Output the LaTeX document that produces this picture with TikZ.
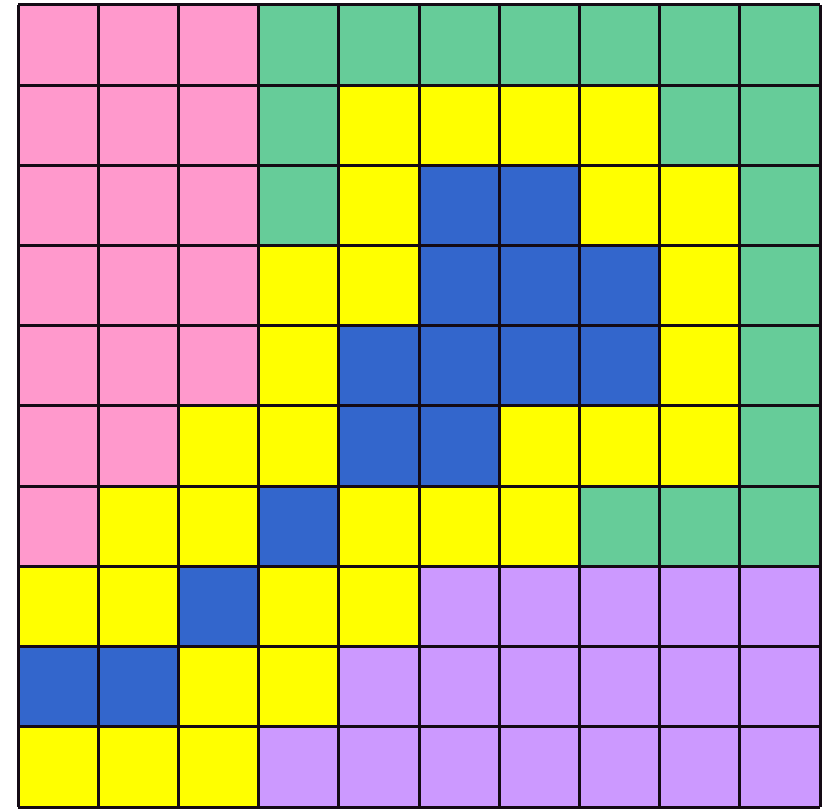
\documentclass[tikz,border=0pt]{standalone}
\definecolor{P}{RGB}{255,153,204}
\definecolor{G}{RGB}{102,204,153}
\definecolor{Y}{RGB}{255,255,0}
\definecolor{B}{RGB}{51,102,204}
\definecolor{V}{RGB}{204,153,255}
\definecolor{gridline}{RGB}{20,10,20}
\begin{document}
\begin{tikzpicture}[x=1pt,y=-1pt,cellbox/.style={draw=gridline,line width=3pt}]
\useasboundingbox (0,0) rectangle (823,810);
\fill[white] (0,0) rectangle (823,810);
\foreach \row [count=\r from 0] in {
 {P,P,P,G,G,G,G,G,G,G},
 {P,P,P,G,Y,Y,Y,Y,G,G},
 {P,P,P,G,Y,B,B,Y,Y,G},
 {P,P,P,Y,Y,B,B,B,Y,G},
 {P,P,P,Y,B,B,B,B,Y,G},
 {P,P,Y,Y,B,B,Y,Y,Y,G},
 {P,Y,Y,B,Y,Y,Y,G,G,G},
 {Y,Y,B,Y,Y,V,V,V,V,V},
 {B,B,Y,Y,V,V,V,V,V,V},
 {Y,Y,Y,V,V,V,V,V,V,V}}{
  \foreach \c [count=\k from 0] in \row {
    \fill[\c] ({18+80.2*\k},{5+80.2*\r}) rectangle ++(80.2,80.2);
  }
}
\foreach \i in {0,...,10}{
  \draw[cellbox] ({18+80.2*\i},5) -- ({18+80.2*\i},807);
  \draw[cellbox] (18,{5+80.2*\i}) -- (820,{5+80.2*\i});
}
\end{tikzpicture}
\end{document}
